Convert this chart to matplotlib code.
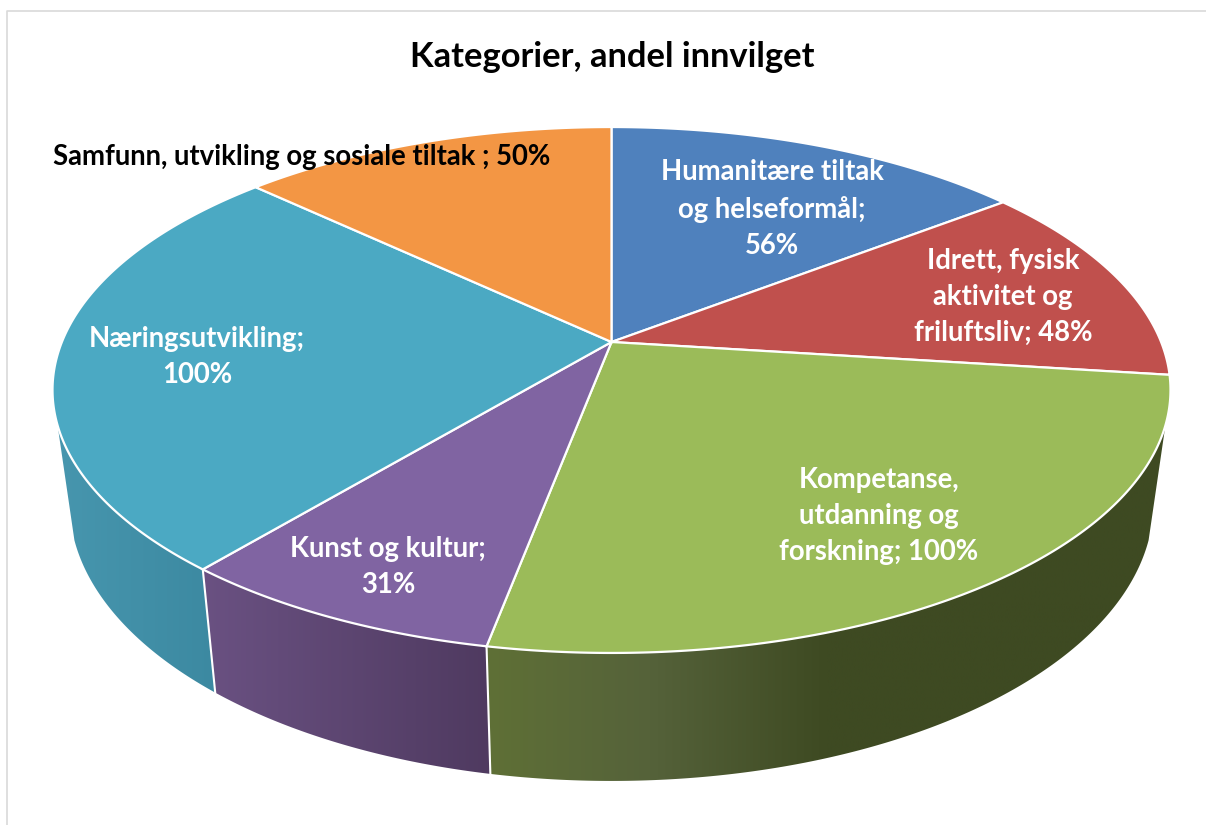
import numpy as np
import matplotlib
matplotlib.use("Agg")
import matplotlib.pyplot as plt
import matplotlib.colors as mcolors
from matplotlib.patches import Polygon

plt.rcParams['font.family'] = ['Lato', 'DejaVu Sans']

title = "Kategorier, andel innvilget"
values = [56, 48, 100, 31, 100, 50]
label_formats = ["Humanitære tiltak\nog helseformål;\n{}%",
                 "Idrett, fysisk\naktivitet og\nfriluftsliv; {}%",
                 "Kompetanse,\nutdanning og\nforskning; {}%",
                 "Kunst og kultur;\n{}%",
                 "Næringsutvikling;\n{}%",
                 "Samfunn, utvikling og sosiale tiltak ; {}%"]
label_x = [772, 1003, 879, 388, 197, 302]
label_y = [209, 297, 516, 567, 357, 157]
label_colors = ["white", "white", "white", "white", "white", "black"]
top_colors = ["#4F81BD", "#C0504D", "#9BBB59", "#8064A2", "#4BA9C3", "#F39644"]

# side shading per slice : (fraction of slice width, colour)
side_shades = {2: [(0, "#5F7036"), (0.24, "#55623A"), (0.5, "#3E4A22"), (1, "#3E4A22")],
               3: [(0, "#6A5182"), (1, "#4F3A60")],
               4: [(0, "#4796AE"), (1, "#3C89A1")]}

# visible part of the side wall, degrees clockwise from top
side_start = 108
side_end = 252

cx = 611.5
k = 0.1825
a = 549.6
b = 254.2
y0 = 342


def top_face(theta):
    # perspective view of the unit circle, so the pie centre sits above the ellipse centre
    u = np.sin(np.radians(theta))
    v = np.cos(np.radians(theta))
    w = 1 + k * v
    return cx + a * u / w, y0 - b * v / w


def bottom_face(theta):
    x, y = top_face(theta)
    return cx + (x - cx) * 542 / 559, 503 + (y - 390) * 278 / 263


def rim(func, start, end):
    theta = np.linspace(start, end, max(int(abs(end - start)) * 3, 2))
    x, y = func(theta)
    return np.column_stack([x, y])


def draw_side(ax, start, end, shades):
    pts = np.vstack([rim(top_face, start, end), rim(bottom_face, end, start)])
    poly = Polygon(pts, closed=True, facecolor="none", edgecolor="none")
    ax.add_patch(poly)
    x_min, x_max = pts[:, 0].min(), pts[:, 0].max()
    y_min, y_max = pts[:, 1].min(), pts[:, 1].max()
    frac = np.linspace(0, 1, 512)
    stops = [s[0] for s in shades]
    rgb = np.array([mcolors.to_rgb(s[1]) for s in shades])
    grad = np.stack([np.interp(frac, stops, rgb[:, i]) for i in range(3)], axis=-1)[np.newaxis, :, :]
    im = ax.imshow(grad, extent=(x_min, x_max, y_max, y_min), aspect="auto", zorder=1,
                   interpolation="bilinear")
    im.set_clip_path(poly)


def main():
    fig = plt.figure(figsize=(12.06, 8.25), dpi=100)
    ax = fig.add_axes([0, 0, 1, 1])

    edges = np.concatenate([[0], np.cumsum(values)]) / np.sum(values) * 360

    # side walls first, top face goes over them
    for i in side_shades:
        start = max(edges[i], side_start)
        end = min(edges[i + 1], side_end)
        draw_side(ax, start, end, side_shades[i])

    # white seams between the side walls
    for angle in edges:
        if side_start < angle < side_end:
            xt, yt = top_face(angle)
            xb, yb = bottom_face(angle)
            ax.plot([xt, xb], [yt, yb], color="white", lw=1.5, zorder=2)

    for i, color in enumerate(top_colors):
        pts = np.vstack([[[cx, y0]], rim(top_face, edges[i], edges[i + 1])])
        ax.add_patch(Polygon(pts, closed=True, facecolor=color, edgecolor="white", lw=1.6,
                             joinstyle="miter", zorder=3))

    for i, fmt in enumerate(label_formats):
        ax.text(label_x[i], label_y[i], fmt.format(values[i]), color=label_colors[i], fontsize=19.8,
                fontweight="bold", ha="center", va="center", linespacing=1.47, zorder=5)

    ax.text(612, 57, title, color="black", fontsize=24.8, fontweight="bold", ha="center", va="center", zorder=5)

    # chart frame, only top and left are inside the crop
    ax.plot([6.5, 6.5, 1206], [825, 10.5, 10.5], color="#D9D9D9", lw=1.2, zorder=0)

    ax.set_xlim(0, 1206)
    ax.set_ylim(825, 0)
    ax.axis("off")
    fig.savefig("out.png", dpi=100, facecolor="white")


if __name__ == '__main__':
    main()
